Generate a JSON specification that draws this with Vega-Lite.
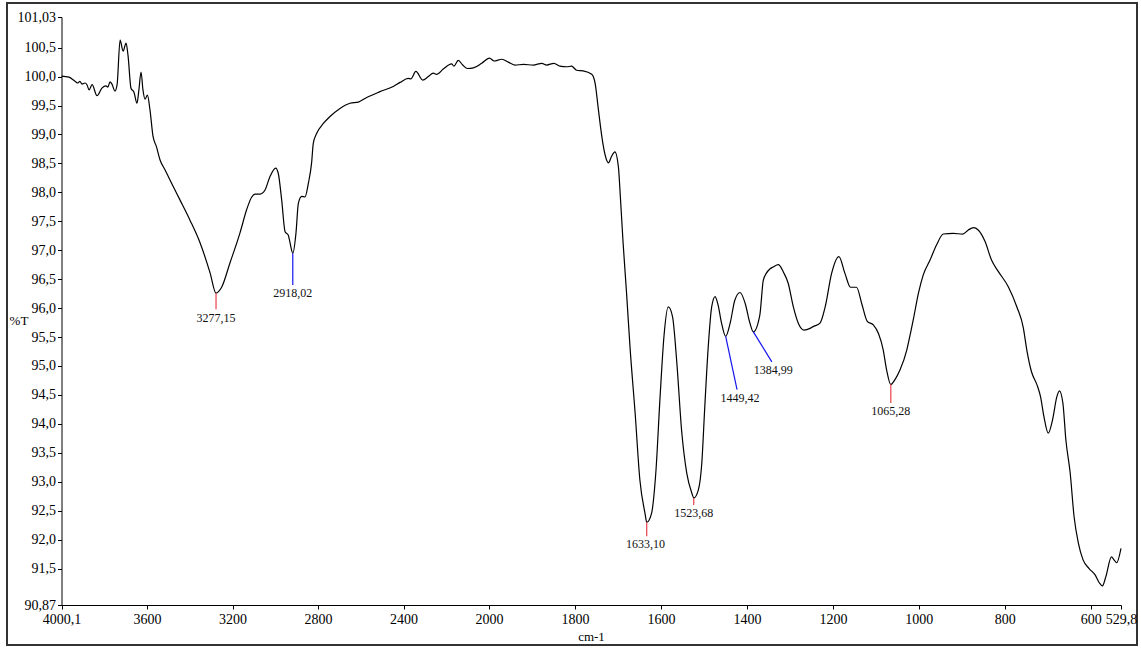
{
  "$schema": "https://vega.github.io/schema/vega-lite/v6.json",
  "width": 1130,
  "height": 642,
  "autosize": {"type": "none"},
  "padding": {"left": 7, "top": 3, "right": 4, "bottom": 3},
  "background": "white",
  "config": {
    "view": {"stroke": "#333333", "strokeWidth": 2},
    "font": "Liberation Serif",
    "axis": {"labelOverlap": false, "labelFlush": false, "labelSeparation": 0, "grid": false,
             "labelFont": "Liberation Serif", "labelFontSize": 14, "labelColor": "black",
             "titleFont": "Liberation Serif", "titleFontSize": 13, "titleFontWeight": "normal", "titleColor": "black",
             "domainColor": "black", "domainWidth": 1, "tickColor": "black", "tickSize": 4}
  },
  "resolve": {"axis": {"x": "independent", "y": "independent"}},
  "datasets": {
    "spectrum": [
      {"w":4000.1,"t":100.01},{"w":3965,"t":99.99},{"w":3937,"t":99.92},{"w":3923,"t":99.89},{"w":3914,"t":99.92},
      {"w":3904,"t":99.87},{"w":3890,"t":99.89},{"w":3881,"t":99.86},{"w":3871,"t":99.77},{"w":3857,"t":99.86},
      {"w":3834,"t":99.67},{"w":3811,"t":99.80},{"w":3792,"t":99.84},{"w":3783,"t":99.82},{"w":3773,"t":99.91},
      {"w":3764,"t":99.87},{"w":3750,"t":99.75},{"w":3740,"t":99.86},{"w":3726,"t":100.63},{"w":3712,"t":100.44},
      {"w":3698,"t":100.58},{"w":3689,"t":100.37},{"w":3675,"t":99.80},{"w":3661,"t":99.73},{"w":3647,"t":99.54},
      {"w":3638,"t":99.77},{"w":3628,"t":100.08},{"w":3619,"t":99.77},{"w":3609,"t":99.61},{"w":3598,"t":99.68},
      {"w":3586,"t":99.42},{"w":3572,"t":98.97},{"w":3556,"t":98.79},{"w":3539,"t":98.56},{"w":3516,"t":98.39},
      {"w":3492,"t":98.21},{"w":3446,"t":97.87},{"w":3399,"t":97.52},{"w":3352,"t":97.13},{"w":3305,"t":96.61},
      {"w":3277.15,"t":96.26},{"w":3251,"t":96.36},{"w":3212,"t":96.78},{"w":3165,"t":97.30},{"w":3134,"t":97.70},
      {"w":3110,"t":97.92},{"w":3095,"t":97.97},{"w":3071,"t":97.97},{"w":3048,"t":98.04},{"w":3025,"t":98.27},
      {"w":2998,"t":98.42},{"w":2986,"t":98.33},{"w":2970,"t":97.87},{"w":2954,"t":97.32},{"w":2939,"t":97.26},
      {"w":2931,"t":97.13},{"w":2918.02,"t":96.95},{"w":2903,"t":97.30},{"w":2892,"t":97.81},{"w":2876,"t":97.93},
      {"w":2861,"t":97.92},{"w":2845,"t":98.16},{"w":2830,"t":98.51},{"w":2822,"t":98.85},{"w":2806,"t":99.02},
      {"w":2775,"t":99.19},{"w":2744,"t":99.31},{"w":2697,"t":99.45},{"w":2650,"t":99.54},{"w":2611,"t":99.56},
      {"w":2572,"t":99.64},{"w":2510,"t":99.74},{"w":2448,"t":99.83},{"w":2416,"t":99.90},{"w":2378,"t":99.97},
      {"w":2366,"t":99.96},{"w":2342,"t":100.09},{"w":2310,"t":99.94},{"w":2284,"t":100.00},{"w":2261,"t":100.06},
      {"w":2245,"t":100.04},{"w":2214,"t":100.13},{"w":2175,"t":100.22},{"w":2164,"t":100.18},{"w":2144,"t":100.28},
      {"w":2123,"t":100.20},{"w":2100,"t":100.14},{"w":2073,"t":100.15},{"w":2034,"t":100.23},{"w":1999,"t":100.32},
      {"w":1988,"t":100.27},{"w":1970,"t":100.30},{"w":1955,"t":100.25},{"w":1940,"t":100.20},{"w":1920,"t":100.21},
      {"w":1897,"t":100.20},{"w":1877,"t":100.23},{"w":1866,"t":100.20},{"w":1849,"t":100.23},{"w":1835,"t":100.18},
      {"w":1819,"t":100.17},{"w":1808,"t":100.18},{"w":1796,"t":100.11},{"w":1781,"t":100.10},{"w":1761,"t":100.04},
      {"w":1753,"t":99.88},{"w":1746,"t":99.46},{"w":1738,"t":98.99},{"w":1730,"t":98.65},{"w":1722,"t":98.51},
      {"w":1715,"t":98.62},{"w":1707,"t":98.70},{"w":1699,"t":98.44},{"w":1694,"t":97.87},{"w":1688,"t":97.12},
      {"w":1680,"t":96.26},{"w":1672,"t":95.33},{"w":1660,"t":94.18},{"w":1649,"t":93.03},{"w":1637,"t":92.45},
      {"w":1633.1,"t":92.30},{"w":1622,"t":92.45},{"w":1612,"t":93.15},{"w":1602,"t":94.47},{"w":1593,"t":95.51},
      {"w":1583,"t":96.02},{"w":1573,"t":95.85},{"w":1563,"t":95.05},{"w":1552,"t":93.89},{"w":1540,"t":93.15},
      {"w":1528,"t":92.80},{"w":1523.68,"t":92.72},{"w":1513,"t":92.86},{"w":1505,"t":93.32},{"w":1498,"t":94.30},
      {"w":1490,"t":95.33},{"w":1482,"t":96.02},{"w":1474,"t":96.20},{"w":1467,"t":96.05},{"w":1459,"t":95.74},
      {"w":1449.42,"t":95.51},{"w":1439,"t":95.74},{"w":1428,"t":96.14},{"w":1416,"t":96.27},{"w":1404,"t":96.08},
      {"w":1393,"t":95.74},{"w":1384.99,"t":95.59},{"w":1370,"t":95.88},{"w":1362,"t":96.48},{"w":1355,"t":96.60},
      {"w":1346,"t":96.68},{"w":1339,"t":96.71},{"w":1327,"t":96.75},{"w":1315,"t":96.62},{"w":1304,"t":96.43},
      {"w":1292,"t":96.02},{"w":1280,"t":95.73},{"w":1267,"t":95.62},{"w":1253,"t":95.65},{"w":1246,"t":95.68},
      {"w":1230,"t":95.74},{"w":1218,"t":96.02},{"w":1203,"t":96.60},{"w":1186,"t":96.89},{"w":1172,"t":96.60},
      {"w":1159,"t":96.36},{"w":1145,"t":96.36},{"w":1133,"t":96.08},{"w":1120,"t":95.77},{"w":1106,"t":95.71},
      {"w":1094,"t":95.56},{"w":1083,"t":95.28},{"w":1075,"t":94.93},{"w":1065.28,"t":94.68},{"w":1056,"t":94.76},
      {"w":1044,"t":94.93},{"w":1028,"t":95.28},{"w":1018,"t":95.62},{"w":1013,"t":95.80},{"w":1001,"t":96.26},
      {"w":990,"t":96.57},{"w":974,"t":96.83},{"w":959,"t":97.09},{"w":943,"t":97.28},{"w":920,"t":97.29},
      {"w":898,"t":97.28},{"w":885,"t":97.35},{"w":873,"t":97.39},{"w":862,"t":97.35},{"w":846,"t":97.15},
      {"w":831,"t":96.83},{"w":815,"t":96.63},{"w":792,"t":96.37},{"w":772,"t":96.02},{"w":757,"t":95.66},
      {"w":749,"t":95.28},{"w":738,"t":94.90},{"w":725,"t":94.67},{"w":717,"t":94.47},{"w":709,"t":94.12},
      {"w":699,"t":93.84},{"w":689,"t":94.07},{"w":679,"t":94.47},{"w":673,"t":94.57},{"w":665,"t":94.36},
      {"w":658,"t":93.72},{"w":648,"t":93.15},{"w":639,"t":92.40},{"w":629,"t":91.94},{"w":618,"t":91.65},
      {"w":604,"t":91.50},{"w":590,"t":91.39},{"w":580,"t":91.25},{"w":573,"t":91.20},{"w":565,"t":91.36},
      {"w":552,"t":91.70},{"w":546,"t":91.65},{"w":540,"t":91.60},{"w":529.8,"t":91.85}
    ],
    "peaks": [
      {"label":"3277,15","kind":"a","x":3277.15,"y":96.26,"x2":3277.15,"y2":95.98,"tx":3277.15,"ty":95.83},
      {"label":"2918,02","kind":"b","x":2918.02,"y":96.95,"x2":2918.02,"y2":96.40,"tx":2918.02,"ty":96.26},
      {"label":"1633,10","kind":"a","x":1633.10,"y":92.30,"x2":1633.10,"y2":92.06,"tx":1636,"ty":91.92},
      {"label":"1523,68","kind":"a","x":1523.68,"y":92.72,"x2":1523.68,"y2":92.60,"tx":1523.68,"ty":92.46},
      {"label":"1449,42","kind":"b","x":1449.42,"y":95.51,"x2":1423,"y2":94.59,"tx":1416,"ty":94.45},
      {"label":"1384,99","kind":"b","x":1384.99,"y":95.59,"x2":1342,"y2":95.07,"tx":1339,"ty":94.93},
      {"label":"1065,28","kind":"a","x":1065.28,"y":94.68,"x2":1065.28,"y2":94.36,"tx":1065.28,"ty":94.22}
    ]
  },
  "layer": [
    {
      "data": {"name": "spectrum"},
      "mark": {"type": "line", "color": "black", "strokeWidth": 1.2, "interpolate": "monotone"},
      "encoding": {
        "x": {
          "field": "w", "type": "quantitative", "title": "cm-1",
          "scale": {"domain": [4000.1, 2000, 529.8], "range": [54.5, 482, 1114], "zero": false, "nice": false},
          "axis": {
            "titleX": 584, "titleY": 31, "titleBaseline": "middle",
            "values": [4000.1, 3600, 3200, 2800, 2400, 2000, 1800, 1600, 1400, 1200, 1000, 800, 600, 529.8],
            "labelExpr": "datum.value == 4000.1 ? '4000,1' : (datum.value == 529.8 ? '529,8' : format(datum.value, 'd'))",
            "labelPadding": 3, "labelOverlap": false,
            "offset": -40
          }
        },
        "y": {
          "field": "t", "type": "quantitative", "title": "%T",
          "scale": {"domain": [90.87, 101.03], "range": [602, 14], "zero": false, "nice": false},
          "axis": {
            "titleAngle": 0, "titleX": -43, "titleY": 317, "titleAlign": "center", "titleBaseline": "middle",
            "values": [90.87, 91.5, 92, 92.5, 93, 93.5, 94, 94.5, 95, 95.5, 96, 96.5, 97, 97.5, 98, 98.5, 99, 99.5, 100, 100.5, 101.03],
            "labelExpr": "replace((datum.value == 90.87 || datum.value == 101.03) ? format(datum.value, '.2f') : format(datum.value, '.1f'), '.', ',')",
            "labelPadding": 2, "labelOverlap": false, "tickMinStep": 0.1,
            "offset": -54.5
          }
        }
      }
    },
    {
      "data": {"name": "peaks"},
      "mark": {"type": "rule", "strokeWidth": 1.2},
      "encoding": {
        "x": {"field": "x", "type": "quantitative", "axis": null},
        "x2": {"field": "x2"},
        "y": {"field": "y", "type": "quantitative", "axis": null},
        "y2": {"field": "y2"},
        "color": {"field": "kind", "type": "nominal", "scale": {"domain": ["a", "b"], "range": ["#e8404a", "#1414f0"]}, "legend": null}
      }
    },
    {
      "data": {"name": "peaks"},
      "mark": {"type": "text", "font": "Liberation Serif", "fontSize": 12, "color": "#111111", "align": "center", "baseline": "middle"},
      "encoding": {
        "x": {"field": "tx", "type": "quantitative", "axis": null},
        "y": {"field": "ty", "type": "quantitative", "axis": null},
        "text": {"field": "label"}
      }
    }
  ]
}
